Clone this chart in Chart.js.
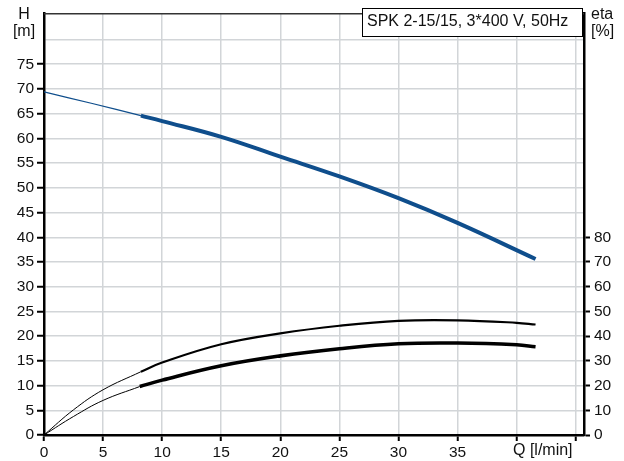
<!DOCTYPE html>
<html>
<head>
<meta charset="utf-8">
<script src="https://cdn.jsdelivr.net/npm/chart.js@4/dist/chart.umd.min.js"></script>
<style>
  body { margin: 0; background: #fff; }
  #wrap { width: 624px; height: 461px; }
</style>
</head>
<body>
<div id="wrap"><canvas id="c" width="624" height="461"></canvas></div>
<script>
// Head curve H [m] (thin = outside operating range)
const hThinQ = [0, 4, 8.2];
const hThin = [69.4, 67.1, 64.6];
const hQ = [8.2, 10, 15, 20, 25, 30, 35, 41.6];
const hVals = [64.6, 63.5, 60.3, 56.3, 52.3, 47.9, 42.9, 35.6];

// Efficiency curves eta [%]
const etaUpThinQ = [0, 2.5, 5, 8.2];
const etaUpThin = [0, 10.2, 18.3, 25.6];
const etaUpQ = [8.2, 10, 15, 20, 25, 30, 35, 40, 41.6];
const etaUp = [25.6, 29.3, 36.7, 41.1, 44.2, 46.2, 46.4, 45.4, 44.7];

const etaLoThinQ = [0, 2.5, 5, 8.1];
const etaLoThin = [0, 7.5, 14, 19.6];
const etaLoQ = [8.1, 10, 15, 20, 25, 30, 35, 40, 41.6];
const etaLo = [19.6, 22.2, 28, 32, 34.9, 36.9, 37.2, 36.5, 35.7];

const xTicks = [0, 5, 10, 15, 20, 25, 30, 35, 40, 45];
const hTicks = [0, 5, 10, 15, 20, 25, 30, 35, 40, 45, 50, 55, 60, 65, 70, 75, 80];
const etaTicks = [0, 10, 20, 30, 40, 50, 60, 70, 80];

const BLUE = '#0f4e8c';
const FAMILY = 'Liberation Sans, Arial, sans-serif';
const FONT = { family: FAMILY, size: 15.5 };

function pts(xs, ys) { return xs.map((x, i) => ({ x: x, y: ys[i] })); }

function line(data, color, width, axis) {
  return {
    data: data, borderColor: color, borderWidth: width, pointRadius: 0,
    tension: 0.4, yAxisID: axis, fill: false
  };
}

const texts = {
  id: 'texts',
  afterDraw(chart) {
    const ctx = chart.ctx;
    const a = chart.chartArea;
    ctx.save();
    // top frame line
    ctx.strokeStyle = '#333';
    ctx.lineWidth = 1.5;
    ctx.beginPath();
    ctx.moveTo(a.left, a.top + 0.5);
    ctx.lineTo(a.right, a.top + 0.5);
    ctx.stroke();
    // title box
    ctx.fillStyle = '#fff';
    ctx.fillRect(362.5, 8.5, 220, 28);
    ctx.strokeStyle = '#000';
    ctx.lineWidth = 1;
    ctx.strokeRect(362.5, 8.5, 220, 28);
    ctx.fillStyle = '#111';
    ctx.font = '16px ' + FAMILY;
    ctx.textBaseline = 'middle';
    ctx.textAlign = 'left';
    ctx.fillText('SPK 2-15/15, 3*400 V, 50Hz', 367, 22);
    // axis units
    ctx.textAlign = 'center';
    ctx.fillText('H', 24, 15);
    ctx.fillText('[m]', 24, 32);
    ctx.textAlign = 'left';
    ctx.fillText('eta', 591, 15);
    ctx.fillText('[%]', 591, 32);
    ctx.fillText('Q [l/min]', 513, 451);
    ctx.restore();
  }
};

new Chart(document.getElementById('c'), {
  type: 'line',
  data: {
    datasets: [
      line(pts(hThinQ, hThin), BLUE, 1.2, 'y'),
      line(pts(hQ, hVals), BLUE, 4, 'y'),
      line(pts(etaUpThinQ, etaUpThin), '#000', 1, 'y2'),
      line(pts(etaUpQ, etaUp), '#000', 2.2, 'y2'),
      line(pts(etaLoThinQ, etaLoThin), '#000', 1, 'y2'),
      line(pts(etaLoQ, etaLo), '#000', 3.6, 'y2')
    ]
  },
  options: {
    responsive: false,
    animation: false,
    layout: { padding: { top: 8, left: 0, right: 0, bottom: 0 } },
    plugins: { legend: { display: false }, tooltip: { enabled: false } },
    scales: {
      x: {
        type: 'linear', min: 0, max: 45.7,
        afterBuildTicks: s => { s.ticks = xTicks.map(v => ({ value: v })); },
        afterFit: s => { s.height = 26; },
        ticks: {
          autoSkip: false, maxRotation: 0, padding: 2, color: '#111', font: FONT,
          callback: v => (v <= 35 ? String(v) : '')
        },
        grid: { color: '#d2d5d8', lineWidth: 1.5, tickColor: '#000', tickWidth: 2, tickLength: 6 },
        border: { color: '#000', width: 2.5 }
      },
      y: {
        position: 'left', min: 0, max: 85.3,
        afterBuildTicks: s => { s.ticks = hTicks.map(v => ({ value: v })); },
        afterFit: s => { s.width = 44; },
        ticks: {
          autoSkip: false, padding: 3, color: '#111', font: FONT,
          callback: v => (v <= 75 ? String(v) : '')
        },
        grid: {
          color: '#d2d5d8', lineWidth: 1.5, tickWidth: 2, tickLength: 7,
          tickColor: c => (c.tick && c.tick.value > 75 ? 'rgba(0,0,0,0)' : '#000')
        },
        border: { color: '#000', width: 2.5 }
      },
      y2: {
        position: 'right', min: 0, max: 170.6,
        afterBuildTicks: s => { s.ticks = etaTicks.map(v => ({ value: v })); },
        afterFit: s => { s.width = 40; },
        ticks: { autoSkip: false, padding: 4, color: '#111', font: FONT },
        grid: { drawOnChartArea: false, tickColor: '#000', tickWidth: 2, tickLength: 6 },
        border: { color: '#000', width: 2.5 }
      }
    }
  },
  plugins: [texts]
});
</script>
</body>
</html>
